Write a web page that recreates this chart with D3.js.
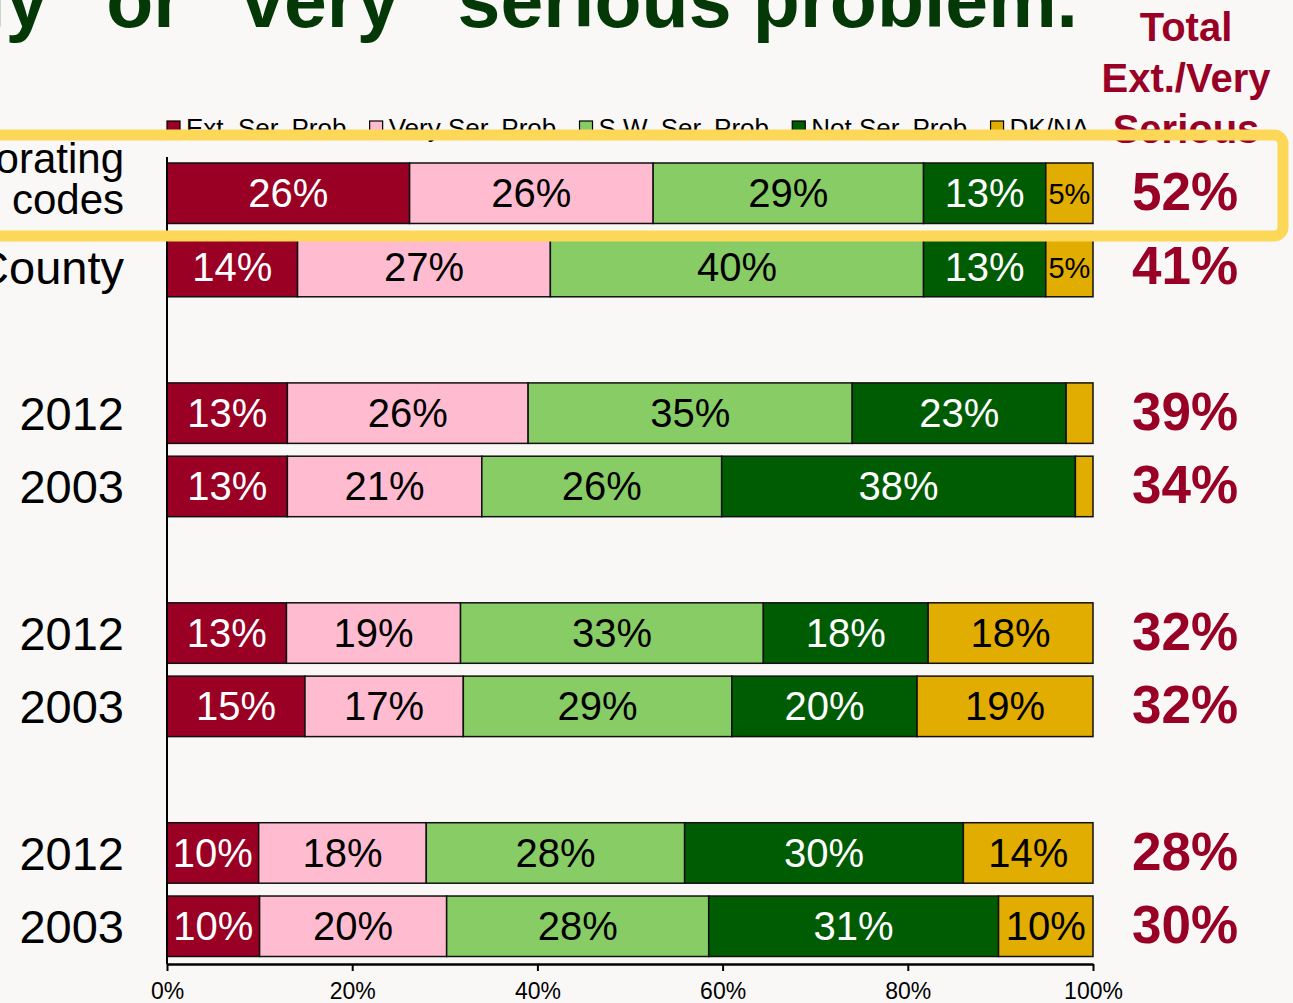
<!DOCTYPE html>
<html>
<head>
<meta charset="utf-8">
<script src="https://cdn.jsdelivr.net/npm/d3@7"></script>
<style>
  html, body { margin: 0; padding: 0; background: #f9f8f6; }
  svg { display: block; font-family: Arial, "Liberation Sans", sans-serif; }
</style>
</head>
<body>
<svg id="chart" width="1293" height="1003"></svg>
<script>
// chart values
var titleText = '"extremely" or "very" serious problem.';
var seriesNames = ["Ext. Ser. Prob.", "Very Ser. Prob.", "S.W. Ser. Prob.", "Not Ser. Prob.", "DK/NA"];
var seriesColors = ["#990024", "#ffbcd1", "#88cc66", "#005c02", "#e1ad00"];
var labelColors = ["#ffffff", "#000000", "#000000", "#ffffff", "#000000"];

var rowLabels = [["orating", "codes"], ["County"], ["2012"], ["2003"], ["2012"], ["2003"], ["2012"], ["2003"]];
// slot of each row among the bands (empty slots separate the groups)
var rowSlot = [0, 1, 3, 4, 6, 7, 9, 10];
var slotCount = 11;

var extSer = [26.2, 14.1, 13.0, 13.0, 12.9, 14.9, 9.9, 10.0];
var verySer = [26.3, 27.3, 26.0, 21.0, 18.8, 17.1, 18.1, 20.2];
var swSer = [29.2, 40.3, 35.0, 25.9, 32.7, 29.0, 27.9, 28.3];
var notSer = [13.2, 13.2, 23.1, 38.2, 17.8, 20.0, 30.1, 31.3];
var dkNa = [5.1, 5.1, 2.9, 1.9, 17.8, 19.0, 14.0, 10.2];

var totalExtVery = [52, 41, 39, 34, 32, 32, 28, 30];
var totalHeader = ["Total", "Ext./Very", "Serious"];
var axisTicks = [0, 20, 40, 60, 80, 100];

var svg = d3.select("#chart");

var x = d3.scaleLinear().domain([0, 100]).range([167, 1093]);
var y = d3.scaleBand()
  .domain(d3.range(slotCount))
  .range([163, 956.5])
  .paddingInner(0.175)
  .paddingOuter(0);

// stack the five series per row
var table = rowLabels.map(function (lab, i) {
  return {
    index: i,
    slot: rowSlot[i],
    label: lab,
    total: totalExtVery[i],
    values: [extSer[i], verySer[i], swSer[i], notSer[i], dkNa[i]]
  };
});
var stack = d3.stack().keys(d3.range(5)).value(function (d, k) { return d.values[k]; });
var layers = stack(table);

// title (cut off by the slide edge)
svg.append("text")
  .attr("x", 1078)
  .attr("y", 27)
  .attr("text-anchor", "end")
  .attr("font-size", 77)
  .attr("font-weight", "bold")
  .attr("fill", "#043806")
  .text(titleText);

// totals column header
svg.append("g").selectAll("text")
  .data(totalHeader)
  .join("text")
  .attr("x", 1186)
  .attr("y", function (d, i) { return 41 + i * 51; })
  .attr("text-anchor", "middle")
  .attr("font-size", 40)
  .attr("font-weight", "bold")
  .attr("fill", "#990026")
  .text(function (d) { return d; });

// legend
var legend = svg.append("g").attr("class", "legend");
var lx = 167;
seriesNames.forEach(function (name, i) {
  var item = legend.append("g").attr("transform", "translate(" + lx + ",0)");
  item.append("rect")
    .attr("x", 0).attr("y", 121)
    .attr("width", 13).attr("height", 13)
    .attr("fill", seriesColors[i])
    .attr("stroke", "#000").attr("stroke-width", 1.2);
  var t = item.append("text")
    .attr("x", 19).attr("y", 137)
    .attr("font-size", 26)
    .attr("fill", "#000")
    .text(name);
  lx += 19 + t.node().getComputedTextLength() + 16;
});

// bars
var rows = svg.append("g").attr("class", "bars");
layers.forEach(function (layer, k) {
  var g = rows.append("g");
  g.selectAll("rect")
    .data(layer)
    .join("rect")
    .attr("x", function (d) { return x(d[0]); })
    .attr("y", function (d) { return y(d.data.slot); })
    .attr("width", function (d) { return x(d[1]) - x(d[0]); })
    .attr("height", y.bandwidth())
    .attr("fill", seriesColors[k])
    .attr("stroke", "#111")
    .attr("stroke-width", 1.5);

  g.selectAll("text")
    .data(layer.filter(function (d) { return d[1] - d[0] >= 4; }))
    .join("text")
    .attr("x", function (d) { return (x(d[0]) + x(d[1])) / 2; })
    .attr("y", function (d) { return y(d.data.slot) + y.bandwidth() / 2 + (d[1] - d[0] < 8 ? 11 : 14); })
    .attr("text-anchor", "middle")
    .attr("font-size", function (d) { return d[1] - d[0] < 8 ? 29 : 40; })
    .attr("fill", labelColors[k])
    .text(function (d) { return Math.round(d[1] - d[0]) + "%"; });
});

// row labels
var labels = svg.append("g").attr("class", "row-labels");
table.forEach(function (d) {
  var cy = y(d.slot) + y.bandwidth() / 2;
  var twoLines = d.label.length > 1;
  var t = labels.append("text")
    .attr("text-anchor", "end")
    .attr("font-size", twoLines ? 42 : 47)
    .attr("fill", "#000");
  d.label.forEach(function (line, j) {
    var base = twoLines ? cy - 20.5 + j * 41 : cy + 17;
    t.append("tspan").attr("x", 124).attr("y", base).text(line);
  });
});

// totals
svg.append("g").selectAll("text")
  .data(table)
  .join("text")
  .attr("x", 1185)
  .attr("y", function (d) { return y(d.slot) + y.bandwidth() / 2 + 17; })
  .attr("text-anchor", "middle")
  .attr("font-size", 53)
  .attr("font-weight", "bold")
  .attr("fill", "#990026")
  .text(function (d) { return d.total + "%"; });

// axes
svg.append("line")
  .attr("x1", x(0)).attr("x2", x(0))
  .attr("y1", 157).attr("y2", 964)
  .attr("stroke", "#000").attr("stroke-width", 2);

var xAxis = svg.append("g")
  .attr("transform", "translate(0,964)")
  .call(d3.axisBottom(x)
    .tickValues(axisTicks)
    .tickSize(7)
    .tickSizeOuter(0)
    .tickPadding(12)
    .tickFormat(function (d) { return d + "%"; }));
xAxis.select(".domain").attr("stroke", "#000").attr("stroke-width", 2.5);
xAxis.selectAll(".tick line").attr("stroke", "#000").attr("stroke-width", 2);
xAxis.selectAll(".tick text")
  .attr("font-size", 23)
  .attr("font-family", "Arial, 'Liberation Sans', sans-serif")
  .attr("fill", "#000");

// highlight box round the first row
svg.append("rect")
  .attr("x", -30)
  .attr("y", 135)
  .attr("width", 1313)
  .attr("height", 101)
  .attr("rx", 9)
  .attr("fill", "none")
  .attr("stroke", "#fdd757")
  .attr("stroke-width", 11);
</script>
</body>
</html>
